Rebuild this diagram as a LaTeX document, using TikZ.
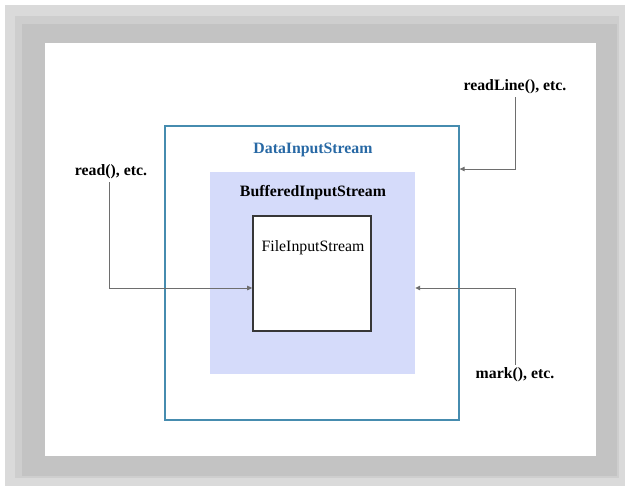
\documentclass[tikz,border=0pt]{standalone}
\usepackage{fontspec}
\setmainfont{Liberation Serif}
\usetikzlibrary{arrows.meta}
\definecolor{frameA}{RGB}{218,218,218}
\definecolor{frameB}{RGB}{206,206,206}
\definecolor{frameC}{RGB}{195,195,195}
\definecolor{dblue}{RGB}{70,140,175}
\definecolor{dtext}{RGB}{40,105,165}
\definecolor{bfill}{RGB}{213,219,250}
\definecolor{fborder}{RGB}{55,55,55}
\definecolor{conncol}{RGB}{110,110,110}
\begin{document}
\begin{tikzpicture}[x=1pt,y=-1pt,
  every node/.style={font=\fontsize{15.8}{18}\selectfont},
  lbl/.style={inner sep=0pt, anchor=center},
  conn/.style={draw=conncol, line width=0.9pt, -{Triangle[length=5pt,width=4.5pt]}}]
\useasboundingbox (0,0) rectangle (629,491);
\fill[white] (0,0) rectangle (629,491);
\fill[frameA] (5,5) rectangle (625,486);
\fill[frameB] (15,16) rectangle (619,478);
\fill[frameC] (22,24) rectangle (617,476);
\fill[white] (45,43) rectangle (596,456);
% boxes
\node[draw=dblue, line width=1.3pt, minimum width=294pt, minimum height=294pt, inner sep=0pt] (dis) at (312,273) {};
\node[fill=bfill, minimum width=205pt, minimum height=202pt, inner sep=0pt] (bis) at (312.5,273) {};
\node[draw=fborder, fill=white, line width=1.6pt, minimum width=118pt, minimum height=115pt, inner sep=0pt] (fis) at (312,273.5) {};
% labels
\node[lbl, text=dtext, font=\fontsize{15.8}{18}\selectfont\bfseries] (dlab) at (313,150) {DataInputStream};
\node[lbl, font=\fontsize{15.8}{18}\selectfont\bfseries] (blab) at (313,193) {BufferedInputStream};
\node[lbl] (flab) at (313,248) {FileInputStream};
\node[lbl, font=\fontsize{15.8}{18}\selectfont\bfseries] (rl) at (515,87) {readLine(), etc.};
\node[lbl, font=\fontsize{15.8}{18}\selectfont\bfseries] (rd) at (111,172) {read(), etc.};
\node[lbl, font=\fontsize{15.8}{18}\selectfont\bfseries] (mk) at (515,375) {mark(), etc.};
% connector heights
\coordinate (ya) at (0,169);
\coordinate (yb) at (0,288);
% connectors
\draw[conn] ([yshift=-3pt]rl.south) |- (dis.east |- ya);
\draw[conn] ([xshift=-2pt,yshift=-3pt]rd.south) |- (fis.west |- yb);
\draw[conn] ([yshift=3pt]mk.north) |- (bis.east |- yb);
\end{tikzpicture}
\end{document}
